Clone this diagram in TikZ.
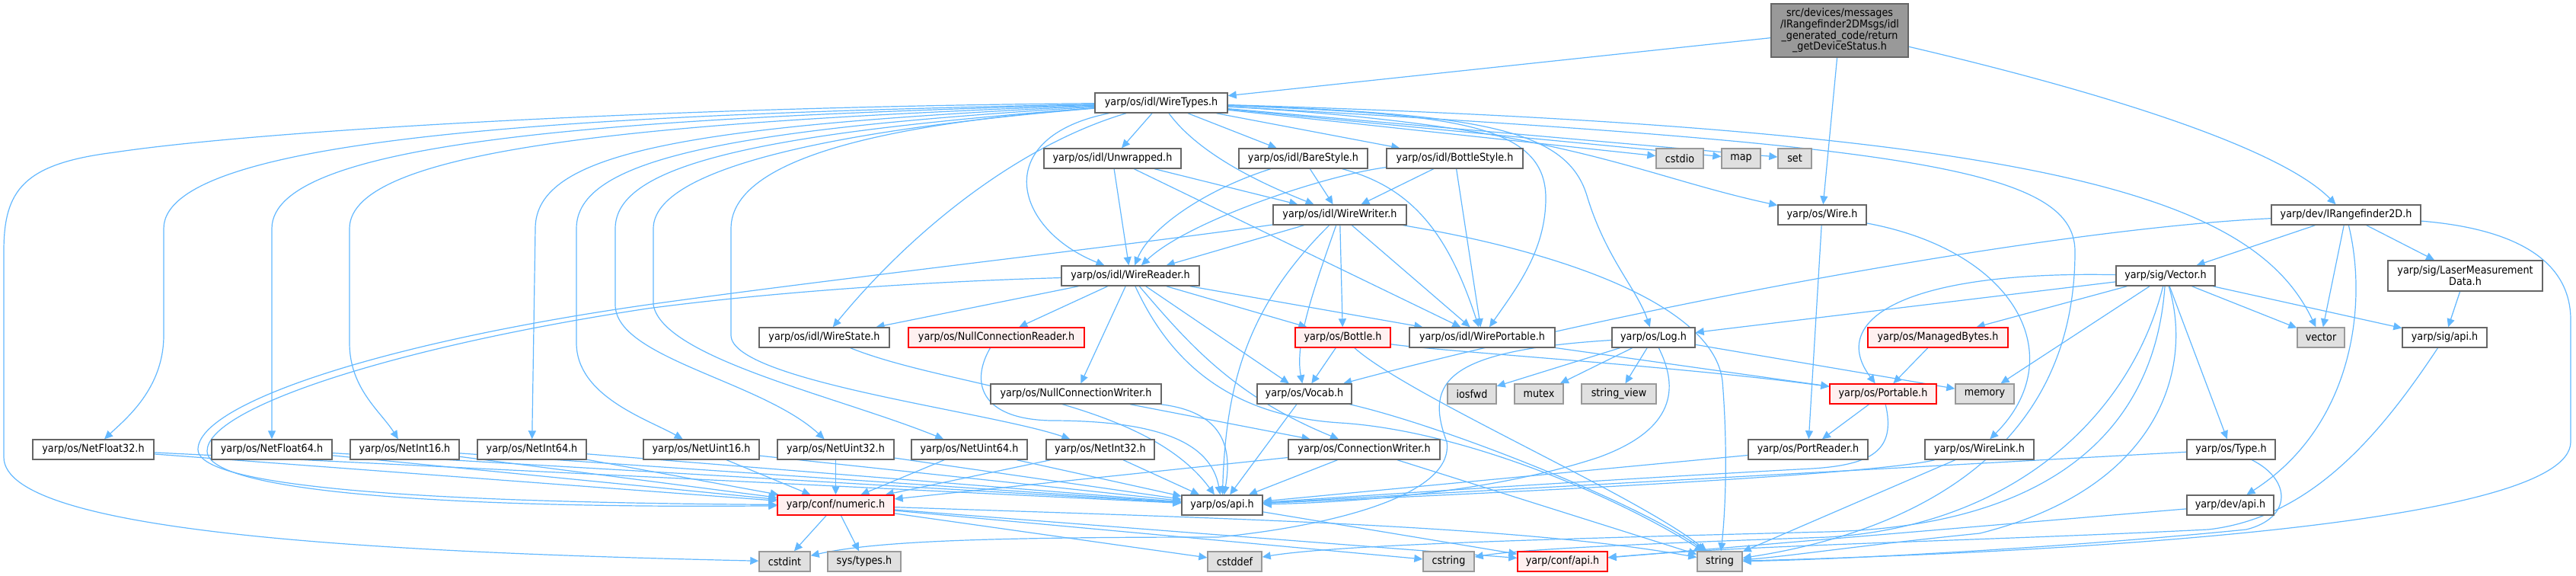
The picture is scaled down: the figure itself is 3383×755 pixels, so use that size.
\documentclass[tikz,border=0pt]{standalone}
\usepackage{fontspec}
\setmainfont{DejaVu Sans}[FakeStretch=0.9]
\usetikzlibrary{arrows.meta,backgrounds}
\definecolor{ec}{HTML}{63B8FF}
\definecolor{bd}{HTML}{666666}
\definecolor{gbd}{HTML}{999999}
\definecolor{gfill}{HTML}{E0E0E0}
\definecolor{rfill}{HTML}{FFF0F0}
\definecolor{rootfill}{HTML}{999999}
\newcommand\mkn[6]{\node[#1, minimum width=#4*0.5pt, minimum height=#5*0.5pt] (#2) at (#3) {#6};}
\begin{document}
\begin{tikzpicture}[x=0.5pt,y=-0.5pt,
 box/.style={draw=bd, fill=white, line width=0.7pt, inner sep=0pt, font=\fontsize{7.1}{7.4}\selectfont, align=center},
 gbox/.style={box, draw=gbd, fill=gfill},
 rbox/.style={box, draw=red, fill=rfill},
 rootbox/.style={box, fill=rootfill},
 e/.style={draw=ec, line width=0.6pt, -{Triangle[length=5.5pt,width=5pt]}}]
\useasboundingbox (0,0) rectangle (3383,755);
\mkn{rootbox}{root}{2416,40}{180}{70}{src/devices/messages\\/IRangefinder2DMsgs/idl\\\_generated\_code/return\\\_getDeviceStatus.h}
\mkn{box}{WT}{1525,135}{174}{26}{yarp/os/idl/WireTypes.h}
\mkn{box}{UW}{1461,208}{180}{26}{yarp/os/idl/Unwrapped.h}
\mkn{box}{BS}{1711.5,208}{169}{26}{yarp/os/idl/BareStyle.h}
\mkn{box}{BOS}{1910.5,208}{179}{26}{yarp/os/idl/BottleStyle.h}
\mkn{gbox}{cstdio}{2206,208}{62}{26}{cstdio}
\mkn{gbox}{map}{2286.5,208}{51}{26}{map}
\mkn{gbox}{set}{2357,208}{44}{26}{set}
\mkn{box}{WW}{1759.5,282}{175}{26}{yarp/os/idl/WireWriter.h}
\mkn{box}{wire}{2393,282}{116}{26}{yarp/os/Wire.h}
\mkn{box}{IR}{3081,282}{196}{26}{yarp/dev/IRangefinder2D.h}
\mkn{box}{WR}{1484.5,362}{181}{26}{yarp/os/idl/WireReader.h}
\mkn{box}{vec}{2844,362}{130}{26}{yarp/sig/Vector.h}
\mkn{box}{LMD}{3237.5,362}{203}{40}{yarp/sig/LaserMeasurement\\Data.h}
\mkn{box}{WS}{1082.5,443}{171}{26}{yarp/os/idl/WireState.h}
\mkn{rbox}{NCR}{1308.5,443}{231}{26}{yarp/os/NullConnectionReader.h}
\mkn{rbox}{bottle}{1763.5,443}{125}{26}{yarp/os/Bottle.h}
\mkn{box}{WP}{1946.5,443}{191}{26}{yarp/os/idl/WirePortable.h}
\mkn{box}{log}{2171.5,443}{109}{26}{yarp/os/Log.h}
\mkn{rbox}{MB}{2545,443}{184}{26}{yarp/os/ManagedBytes.h}
\mkn{gbox}{vector}{3048,443}{62}{26}{vector}
\mkn{box}{sigapi}{3210.5,443}{111}{26}{yarp/sig/api.h}
\mkn{box}{NCW}{1413,517}{224}{26}{yarp/os/NullConnectionWriter.h}
\mkn{box}{vocab}{1713,517}{124}{26}{yarp/os/Vocab.h}
\mkn{gbox}{iosfwd}{1933,517}{64}{26}{iosfwd}
\mkn{gbox}{mutex}{2021,517}{64}{26}{mutex}
\mkn{gbox}{sv}{2126,517}{98}{26}{string\_view}
\mkn{rbox}{port}{2473,517}{140}{26}{yarp/os/Portable.h}
\mkn{gbox}{memory}{2606.5,517}{77}{26}{memory}
\mkn{box}{NF32}{122.5,590}{159}{26}{yarp/os/NetFloat32.h}
\mkn{box}{NF64}{357,590}{158}{26}{yarp/os/NetFloat64.h}
\mkn{box}{NI16}{531.5,590}{143}{26}{yarp/os/NetInt16.h}
\mkn{box}{NI64}{698.5,590}{143}{26}{yarp/os/NetInt64.h}
\mkn{box}{NU16}{921,590}{152}{26}{yarp/os/NetUint16.h}
\mkn{box}{NU32}{1097.5,590}{153}{26}{yarp/os/NetUint32.h}
\mkn{box}{NU64}{1273,590}{152}{26}{yarp/os/NetUint64.h}
\mkn{box}{NI32}{1445,590}{142}{26}{yarp/os/NetInt32.h}
\mkn{box}{CW}{1791.5,590}{199}{26}{yarp/os/ConnectionWriter.h}
\mkn{box}{PR}{2374.5,590}{157}{26}{yarp/os/PortReader.h}
\mkn{box}{WL}{2599.5,590}{143}{26}{yarp/os/WireLink.h}
\mkn{box}{type}{2930,590}{116}{26}{yarp/os/Type.h}
\mkn{rbox}{num}{1097.5,663}{153}{26}{yarp/conf/numeric.h}
\mkn{box}{osapi}{1605,663}{106}{26}{yarp/os/api.h}
\mkn{box}{devapi}{2929,663}{114}{26}{yarp/dev/api.h}
\mkn{gbox}{cstdint}{1030.5,737}{67}{26}{cstdint}
\mkn{gbox}{systypes}{1135,737}{96}{26}{sys/types.h}
\mkn{gbox}{cstddef}{1621.5,737}{71}{26}{cstddef}
\mkn{gbox}{cstring}{1902.5,737}{67}{26}{cstring}
\mkn{rbox}{confapi}{2052,737}{118}{26}{yarp/conf/api.h}
\mkn{gbox}{string}{2258.5,737}{59}{26}{string}
\begin{scope}[on background layer]
% root
\draw[e] (root) -- (WT);
\draw[e] (root) -- (wire);
\draw[e] (root) .. controls (2800,130) and (3000,200) .. (IR);
% WireTypes
\draw[e] (WT) -- (UW);
\draw[e] (WT) -- (BS);
\draw[e] (WT) -- (BOS);
\draw[e] (WT) .. controls (1580,210) and (1680,250) .. (WW);
\draw[e] (WT) .. controls (1300,180) and (1330,300) .. (WR);
\draw[e] (WT) .. controls (1340,190) and (1200,300) .. (WS);
\draw[e] (WT) .. controls (1900,150) and (2030,160) .. (2030,260) .. controls (2030,330) and (1990,380) .. (WP);
\draw[e] (WT) .. controls (1950,150) and (2060,170) .. (2085,260) .. controls (2110,340) and (2150,380) .. (log);
\draw[e] (WT) -- (cstdio);
\draw[e] (WT) -- (map);
\draw[e] (WT) -- (set);
\draw[e] (WT) .. controls (2050,165) and (2150,230) .. (wire);
\draw[e] (WT) .. controls (2700,170) and (2960,260) .. (vector);
\draw[e] (WT) .. controls (2500,190) and (2725,220) .. (2725,330) .. controls (2725,600) and (2500,700) .. (string);
\draw[e] (WT) .. controls (900,140) and (350,170) .. (150,200) .. controls (30,215) and (5,250) .. (5,330) -- (5,600) .. controls (5,700) and (500,725) .. (cstdint);
\draw[e] (WT) .. controls (800,150) and (215,175) .. (215,300) -- (215,440) .. controls (215,510) and (165,550) .. (NF32);
\draw[e] (WT) .. controls (800,155) and (357,185) .. (357,300) -- (NF64);
\draw[e] (WT) .. controls (850,160) and (459,195) .. (459,300) -- (459,450) .. controls (459,510) and (500,540) .. (NI16);
\draw[e] (WT) .. controls (900,165) and (703,200) .. (703,300) -- (NI64);
\draw[e] (WT) .. controls (950,170) and (757,210) .. (757,300) -- (757,450) .. controls (757,520) and (850,550) .. (NU16);
\draw[e] (WT) .. controls (1000,175) and (808,215) .. (808,300) -- (808,400) .. controls (808,470) and (1000,500) .. (NU32);
\draw[e] (WT) .. controls (1100,170) and (858,220) .. (858,300) -- (858,400) .. controls (870,470) and (1100,520) .. (NU64);
\draw[e] (WT) .. controls (1200,160) and (960,200) .. (960,300) -- (960,440) .. controls (960,500) and (1300,540) .. (NI32);
% Unwrapped / BareStyle / BottleStyle
\draw[e] (UW) -- (WR);
\draw[e] (UW) -- (WW);
\draw[e] (UW) -- (WP);
\draw[e] (BS) .. controls (1580,250) and (1510,300) .. (WR);
\draw[e] (BS) -- (WW);
\draw[e] (BS) .. controls (1850,245) and (1900,300) .. (WP);
\draw[e] (BOS) .. controls (1740,230) and (1560,290) .. (WR);
\draw[e] (BOS) -- (WW);
\draw[e] (BOS) -- (WP);
% WireWriter
\draw[e] (WW) -- (WR);
\draw[e] (WW) .. controls (1500,320) and (1100,365) .. (850,400) .. controls (500,450) and (260,530) .. (260,590) .. controls (260,650) and (700,660) .. (num);
\draw[e] (WW) -- (bottle);
\draw[e] (WW) -- (WP);
\draw[e] (WW) .. controls (1725,380) and (1700,450) .. (vocab);
\draw[e] (WW) .. controls (1640,400) and (1610,500) .. (osapi);
\draw[e] (WW) .. controls (2050,330) and (2250,400) .. (2262,500) .. controls (2270,600) and (2265,680) .. (string);
% WireReader
\draw[e] (WR) -- (WS);
\draw[e] (WR) -- (NCR);
\draw[e] (WR) -- (NCW);
\draw[e] (WR) -- (bottle);
\draw[e] (WR) -- (WP);
\draw[e] (WR) -- (vocab);
\draw[e] (WR) .. controls (1560,450) and (1620,520) .. (CW);
\draw[e] (WR) .. controls (1200,370) and (1000,385) .. (850,405) .. controls (520,455) and (272,535) .. (272,592) .. controls (272,655) and (700,667) .. (num);
\draw[e] (WR) .. controls (1530,460) and (1600,545) .. (1760,555) .. controls (1920,565) and (2120,650) .. (string);
% Bottle, WirePortable, Vocab, ConnectionWriter
\draw[e] (bottle) -- (vocab);
\draw[e] (bottle) .. controls (1850,520) and (2150,650) .. (string);
\draw[e] (bottle) .. controls (1900,462) and (2200,480) .. (port);
\draw[e] (WP) -- (port);
\draw[e] (vocab) -- (osapi);
\draw[e] (vocab) .. controls (1900,560) and (2150,660) .. (string);
\draw[e] (CW) -- (num);
\draw[e] (CW) -- (osapi);
\draw[e] (CW) -- (string);
% WireState, Null*
\draw[e] (WS) .. controls (1250,510) and (1500,520) .. (osapi);
\draw[e] (NCR) .. controls (1275,500) and (1285,550) .. (1380,552) .. controls (1520,552) and (1590,580) .. (osapi);
\draw[e] (NCW) .. controls (1600,540) and (1620,580) .. (osapi);
\draw[e] (NCW) -- (CW);
% Net*
\foreach \n in {NF32,NF64,NI16,NI64,NU16,NU32,NU64,NI32}{
  \draw[e] (\n) -- (num);
  \draw[e] (\n) -- (osapi);
}
% Log
\draw[e] (log) -- (iosfwd);
\draw[e] (log) -- (mutex);
\draw[e] (log) -- (sv);
\draw[e] (log) -- (memory.170);
\draw[e] (log) .. controls (2200,500) and (2210,560) .. (2100,600) .. controls (1950,650) and (1750,660) .. (osapi);
\draw[e] (log) .. controls (1900,460) and (1870,500) .. (1900,580) .. controls (1910,650) and (1750,690) .. (1600,705) .. controls (1300,705) and (1150,710) .. (cstdint);
% Portable etc
\draw[e] (port) -- (PR);
\draw[e] (port) .. controls (2490,590) and (2460,610) .. (2380,615) .. controls (2100,630) and (1800,650) .. (osapi);
\draw[e] (MB) -- (port);
\draw[e] (PR) -- (osapi);
\draw[e] (wire) -- (PR);
\draw[e] (wire) .. controls (2650,330) and (2720,470) .. (WL);
\draw[e] (WL) .. controls (2450,625) and (1900,650) .. (osapi);
\draw[e] (WL) -- (string);
\draw[e] (type) -- (osapi);
\draw[e] (type) .. controls (3010,630) and (3010,680) .. (2950,695) .. controls (2700,720) and (2400,735) .. (string);
\draw[e] (devapi) -- (confapi);
\draw[e] (sigapi) .. controls (3120,580) and (3030,680) .. (2900,695) .. controls (2600,710) and (2300,715) .. (confapi);
\draw[e] (osapi) -- (confapi);
% numeric
\draw[e] (num) -- (cstdint);
\draw[e] (num) -- (systypes);
\draw[e] (num) -- (cstddef);
\draw[e] (num) -- (cstring);
\draw[e] (num) -- (confapi);
\draw[e] (num) .. controls (1600,680) and (2000,690) .. (string);
% Vector
\draw[e] (vec) -- (log);
\draw[e] (vec) .. controls (2500,355) and (2400,420) .. (port);
\draw[e] (vec) -- (MB);
\draw[e] (vec) -- (memory);
\draw[e] (vec) -- (vector);
\draw[e] (vec) -- (sigapi);
\draw[e] (vec) -- (type);
\draw[e] (vec) .. controls (2880,480) and (2840,640) .. (2600,700) .. controls (2450,715) and (2350,730) .. (string);
\draw[e] (vec) .. controls (2800,540) and (2650,690) .. (2400,705) .. controls (2200,712) and (2000,720) .. (cstring);
\draw[e] (vec) .. controls (2830,560) and (2700,690) .. (2400,698) .. controls (2000,708) and (1750,716) .. (cstddef);
% IRangefinder2D
\draw[e] (IR) -- (vec);
\draw[e] (IR) -- (LMD);
\draw[e] (IR) -- (vector);
\draw[e] (IR) .. controls (3110,400) and (3090,560) .. (devapi);
\draw[e] (IR) .. controls (3300,300) and (3376,340) .. (3376,420) -- (3376,580) .. controls (3376,690) and (2700,725) .. (string);
\draw[e] (IR) .. controls (2700,300) and (2150,400) .. (vocab);
\draw[e] (LMD) -- (sigapi);
\end{scope}
\end{tikzpicture}
\end{document}
